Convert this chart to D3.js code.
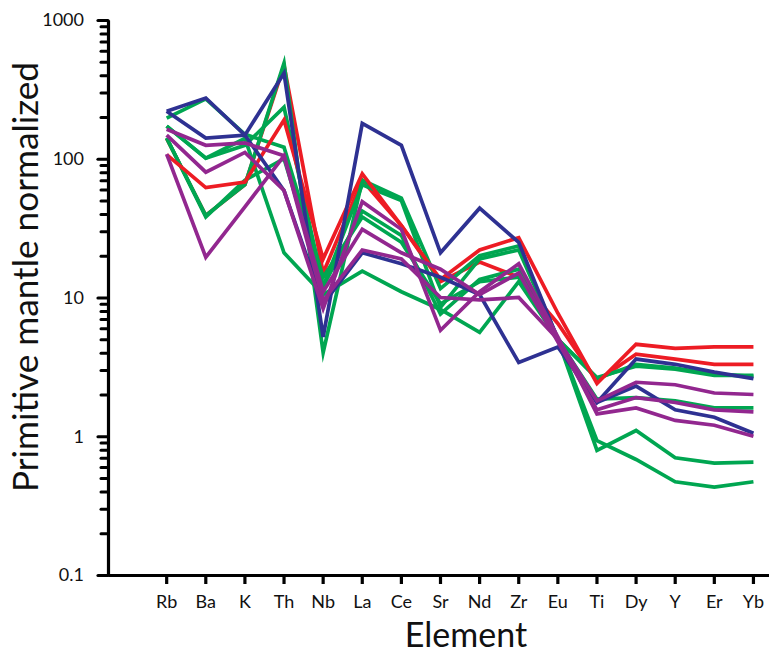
<!DOCTYPE html>
<html>
<head>
<meta charset="utf-8">
<script src="https://cdn.jsdelivr.net/npm/d3@7"></script>
<style>
  html, body { margin: 0; padding: 0; background: #fff; }
  svg { display: block; }
  text { font-family: Lato, "Noto Sans", sans-serif; fill: #111; }
</style>
</head>
<body>
<svg id="chart" width="769" height="655"></svg>
<script>
// Elements along the horizontal axis (a blank slot precedes Rb)
const elements = ["Rb", "Ba", "K", "Th", "Nb", "La", "Ce", "Sr", "Nd", "Zr", "Eu", "Ti", "Dy", "Y", "Er", "Yb"];

// Primitive-mantle normalized concentrations, one array per sample
const red2   = [140, 39, 65, 470, 15, 70, 33, 13, 18, 14, 6.5, 2.5, 3.9, 3.6, 3.3, 3.3];
const red1   = [107, 62, 68, 190, 19, 78, 33, 13.5, 22, 27, 7.7, 2.4, 4.6, 4.3, 4.4, 4.4];
const greenA = [196, 270, 150, 121, 14, 38, 25, 9, 13, 14, 5, 0.79, 1.1, 0.7, 0.64, 0.65];
const greenB = [172, 101, 125, 235, 12, 42, 28, 7.6, 13.5, 16, 5, 1.85, 1.9, 1.8, 1.6, 1.6];
const greenC = [141, 39, 65, 490, 4, 70, 52, 11.6, 20, 23.5, 5, 2.65, 3.2, 3.05, 2.75, 2.75];
const greenD = [141, 38, 70, 100, 12, 65, 50, 8.5, 19, 22, 5, 2.6, 3.3, 3.1, 2.8, 2.7];
const greenE = [172, 101, 140, 21, 10.5, 15.5, 11, 8.2, 5.6, 13, 5, 0.93, 0.68, 0.47, 0.43, 0.47];
const blue1  = [220, 274, 148, 414, 5.2, 180, 125, 21, 44, 25, 5, 1.75, 3.6, 3.3, 2.9, 2.6];
const blue2  = [220, 141, 148, 59, 9, 21, 17.5, 14, 10.5, 3.4, 4.4, 1.75, 2.3, 1.55, 1.37, 1.05];
const purple1 = [163, 125, 130, 105, 9.5, 22, 19, 10, 9.6, 10, 5, 1.8, 2.45, 2.35, 2.05, 2.0];
const purple2 = [148, 80, 111, 59, 8.3, 49, 31, 5.8, 11, 17.5, 5.2, 1.45, 1.6, 1.3, 1.2, 1.0];
const purple3 = [108, 19.5, 45, 105, 11, 31, 21, 16, 10.5, 15, 4.8, 1.55, 1.9, 1.75, 1.55, 1.5];

// Axis tick values
const yMajorTicks = [0.1, 1, 10, 100, 1000];
const yMinorTicks = [];
[0.1, 1, 10, 100].forEach(base => {
  for (let k = 2; k <= 9; k++) yMinorTicks.push(+(base * k).toPrecision(3));
});

const palette = { red: "#ed1c24", green: "#00a651", blue: "#2e3192", purple: "#92278f" };

// Drawing order: greens underneath, then reds, blues and purples on top
const samples = [
  { values: red2, color: palette.red },
  { values: greenA, color: palette.green },
  { values: greenB, color: palette.green },
  { values: greenE, color: palette.green },
  { values: greenD, color: palette.green },
  { values: greenC, color: palette.green },
  { values: red1, color: palette.red },
  { values: blue2, color: palette.blue },
  { values: blue1, color: palette.blue },
  { values: purple1, color: palette.purple },
  { values: purple2, color: palette.purple },
  { values: purple3, color: palette.purple }
];

const svg = d3.select("#chart");
const plotLeft = 108, plotRight = 773, plotTop = 20, plotBottom = 575;

const x = d3.scaleBand().domain(["", ...elements]).range([plotLeft, plotRight]).padding(0);
const xc = d => x(d) + x.bandwidth() / 2;
const y = d3.scaleLog().domain([0.1, 1000]).range([plotBottom, plotTop]);

// Sample lines
const line = d3.line()
  .x((d, i) => xc(elements[i]))
  .y(d => y(d));

svg.append("g")
  .selectAll("path")
  .data(samples)
  .join("path")
  .attr("d", d => line(d.values))
  .attr("fill", "none")
  .attr("stroke", d => d.color)
  .attr("stroke-width", 3.7)
  .attr("stroke-linejoin", "miter")
  .attr("stroke-miterlimit", 6);

// Y axis: minor ticks
const yMinor = svg.append("g")
  .attr("transform", `translate(${plotLeft},0)`)
  .call(d3.axisLeft(y).tickValues(yMinorTicks).tickSize(7).tickFormat(""));
yMinor.select(".domain").remove();
yMinor.selectAll("line").attr("stroke", "#000").attr("stroke-width", 3).attr("stroke-linecap", "round");

// Y axis: major ticks and labels
const yAxis = svg.append("g")
  .attr("transform", `translate(${plotLeft},0)`)
  .call(d3.axisLeft(y).tickValues(yMajorTicks).tickSize(10).tickSizeOuter(0).tickPadding(14)
    .tickFormat(d3.format("~g")));
yAxis.select(".domain").attr("stroke", "#000").attr("stroke-width", 3.2);
yAxis.selectAll(".tick line").attr("stroke", "#000").attr("stroke-width", 3.2).attr("stroke-linecap", "round");
yAxis.selectAll(".tick text").style("font-size", "18px").style("font-family", "Lato, sans-serif").attr("fill", "#111");

// X axis
const xAxis = svg.append("g")
  .attr("transform", `translate(0,${plotBottom})`)
  .call(d3.axisBottom(x).tickValues(elements).tickSize(9).tickSizeOuter(0).tickPadding(11));
xAxis.select(".domain").attr("stroke", "#000").attr("stroke-width", 3.2);
xAxis.selectAll(".tick line").attr("stroke", "#000").attr("stroke-width", 3.2);
xAxis.selectAll(".tick text").style("font-size", "18px").style("font-family", "Lato, sans-serif").attr("fill", "#111");

// Axis titles
svg.append("text")
  .attr("transform", "translate(38,277) rotate(-90)")
  .attr("text-anchor", "middle")
  .attr("textLength", 430)
  .attr("lengthAdjust", "spacingAndGlyphs")
  .style("font-size", "34px")
  .text("Primitive mantle normalized");

svg.append("text")
  .attr("x", 466)
  .attr("y", 647)
  .attr("text-anchor", "middle")
  .style("font-size", "34px")
  .text("Element");
</script>
</body>
</html>
